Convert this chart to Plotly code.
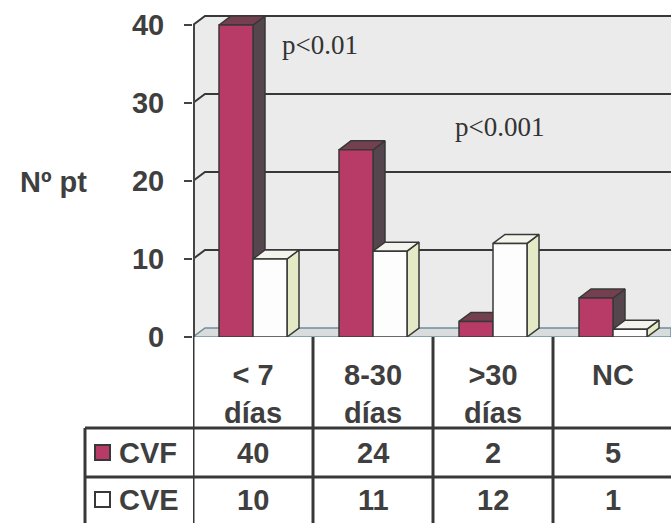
import plotly.graph_objects as go

# ---- data ----
categories = ["< 7 días", "8-30 días", ">30 días", "NC"]
series_names = ["CVF", "CVE"]
cvf = [40, 24, 2, 5]
cve = [10, 11, 12, 1]
y_ticks = [0, 10, 20, 30, 40]
p_labels = ["p<0.01", "p<0.001"]

# ---- geometry (data units) ----
W, H = 671, 523
PX_PER_CAT = 120.0
PX_PER_UNIT = 7.8
Y0_PX = 337            # pixel row of value 0
AXIS_X_PX = 193        # pixel column of the value axis
X_MIN = -0.5
X_MAX = X_MIN + (W - AXIS_X_PX) / PX_PER_CAT
Y_MAX = Y0_PX / PX_PER_UNIT
DX = 12 / PX_PER_CAT   # depth offset, horizontal
DY = 9 / PX_PER_UNIT   # depth offset, vertical
BW = 34 / PX_PER_CAT   # bar width
TOP = max(y_ticks)

TXT = "#3f3f3f"
LINE = "#383838"
FONT = "Liberation Sans"


def esc(s):
    return s.replace("&", "&amp;").replace("<", "&lt;").replace(">", "&gt;")


def px_x(p):
    return p / W


def px_y(p):
    return 1 - p / H


fig = go.Figure()

# back wall + side wall
fig.add_trace(go.Scatter(
    x=[X_MIN, X_MIN, X_MIN + DX, X_MAX, X_MAX, X_MIN],
    y=[0, TOP, TOP + DY, TOP + DY, 0, 0],
    fill="toself", fillcolor="#ebebeb", mode="none", hoverinfo="skip", showlegend=False))
# floor
fig.add_trace(go.Scatter(
    x=[X_MIN, X_MIN + DX, X_MAX, X_MAX, X_MIN],
    y=[0, DY, DY, 0, 0],
    fill="toself", fillcolor="#d9dcdc", mode="lines",
    line=dict(color="#6f8f9a", width=1.5), hoverinfo="skip", showlegend=False))

# gridlines on the back wall and left side wall
gx, gy = [], []
for v in y_ticks[1:]:
    gx += [X_MIN, X_MIN + DX, X_MAX, None]
    gy += [v, v + DY, v + DY, None]
fig.add_trace(go.Scatter(x=gx, y=gy, mode="lines", line=dict(color=LINE, width=2),
                         hoverinfo="skip", showlegend=False))


def faces(values, offset):
    fx, fy, sx, sy, tx, ty = [], [], [], [], [], []
    for i, v in enumerate(values):
        xl = i + offset
        xr = xl + BW
        fx += [xl, xr, xr, xl, xl, None]
        fy += [0, 0, v, v, 0, None]
        sx += [xr, xr + DX, xr + DX, xr, xr, None]
        sy += [0, DY, v + DY, v, 0, None]
        tx += [xl, xr, xr + DX, xl + DX, xl, None]
        ty += [v, v, v + DY, v + DY, v, None]
    return (fx, fy), (sx, sy), (tx, ty)


styles = {
    "CVF": dict(front="#b83a66", side="#55454d", top="#74404f"),
    "CVE": dict(front="#fdfdfd", side="#e5eac6", top="#f4f4ee"),
}

for name, vals, off in [("CVF", cvf, -BW), ("CVE", cve, 0.0)]:
    (fx, fy), (sx, sy), (tx, ty) = faces(vals, off)
    st = styles[name]
    for xs, ys, col in [(sx, sy, st["side"]), (tx, ty, st["top"]), (fx, fy, st["front"])]:
        fig.add_trace(go.Scatter(x=xs, y=ys, fill="toself", fillcolor=col, mode="lines",
                                 line=dict(color=LINE, width=1.5), name=name,
                                 hoverinfo="skip", showlegend=False))

# value axis line
fig.add_trace(go.Scatter(x=[X_MIN, X_MIN], y=[0, TOP], mode="lines",
                         line=dict(color="#444", width=4), hoverinfo="skip", showlegend=False))

annotations = []
shapes = []

# p-value labels
for txt, (ax, ay) in zip(p_labels, [(0.225, 37.4), (1.667, 26.9)]):
    annotations.append(dict(x=ax, y=ay, xref="x", yref="y", text=esc(txt),
                            showarrow=False, xanchor="left", yanchor="middle",
                            font=dict(family="Liberation Serif", size=27, color="#333")))

# axis title
annotations.append(dict(x=px_x(53), y=px_y(182), xref="paper", yref="paper", text="Nº pt",
                        showarrow=False, xanchor="center", yanchor="middle",
                        font=dict(family=FONT, size=29, color=TXT, weight=700)))

# ---- data table ----
HDR_BOT, ROW_MID, TBL_BOT = 428, 477, H + 5
LEFT_PX = 85
tfont = dict(family=FONT, size=29, color=TXT, weight=700)

# vertical column lines
for i in range(len(categories) + 1):
    shapes.append(dict(type="line", xref="x", yref="paper", x0=X_MIN + i, x1=X_MIN + i,
                       y0=px_y(Y0_PX), y1=px_y(TBL_BOT), line=dict(color=LINE, width=3)))
# left border of the legend column
shapes.append(dict(type="line", xref="paper", yref="paper", x0=px_x(LEFT_PX), x1=px_x(LEFT_PX),
                   y0=px_y(HDR_BOT), y1=px_y(TBL_BOT), line=dict(color=LINE, width=3)))
# horizontal row lines
for yy in (HDR_BOT, ROW_MID):
    shapes.append(dict(type="line", xref="paper", yref="paper", x0=px_x(LEFT_PX), x1=1,
                       y0=px_y(yy), y1=px_y(yy), line=dict(color=LINE, width=3)))

# header labels
for i, c in enumerate(categories):
    parts = c.rsplit(" ", 1) if "días" in c else [c]
    annotations.append(dict(x=i, y=px_y(357), xref="x", yref="paper",
                            text="<br>".join(esc(p) for p in parts),
                            showarrow=False, xanchor="center", yanchor="top", font=tfont))

# series rows
row_centers = [453, 500]
key_fill = [styles["CVF"]["front"], "#ffffff"]
for r, (name, vals) in enumerate([(series_names[0], cvf), (series_names[1], cve)]):
    yc = row_centers[r]
    shapes.append(dict(type="rect", xref="paper", yref="paper",
                       x0=px_x(95), x1=px_x(110), y0=px_y(yc + 7), y1=px_y(yc - 8),
                       fillcolor=key_fill[r], line=dict(color=LINE, width=2)))
    annotations.append(dict(x=px_x(117), y=px_y(yc), xref="paper", yref="paper", text=name,
                            showarrow=False, xanchor="left", yanchor="middle", font=tfont))
    for i, v in enumerate(vals):
        annotations.append(dict(x=i, y=px_y(yc), xref="x", yref="paper", text=str(v),
                                showarrow=False, xanchor="center", yanchor="middle", font=tfont))

fig.update_layout(
    template="none",
    width=W, height=H, autosize=False,
    margin=dict(l=0, r=0, t=0, b=0, pad=0),
    paper_bgcolor="white", plot_bgcolor="rgba(0,0,0,0)",
    xaxis=dict(domain=[AXIS_X_PX / W, 1], range=[X_MIN, X_MAX], visible=False,
               automargin=False, fixedrange=True),
    yaxis=dict(domain=[(H - Y0_PX) / H, 1], range=[0, Y_MAX], showgrid=False, zeroline=False,
               showline=False, automargin=False, fixedrange=True,
               tickvals=y_ticks, ticks="outside", ticklen=8, tickwidth=2,
               tickcolor="#444", ticklabelstandoff=14,
               tickfont=dict(family=FONT, size=29, color=TXT, weight=700)),
    shapes=shapes,
    annotations=annotations,
    showlegend=False,
)

fig.write_html("out.html")
